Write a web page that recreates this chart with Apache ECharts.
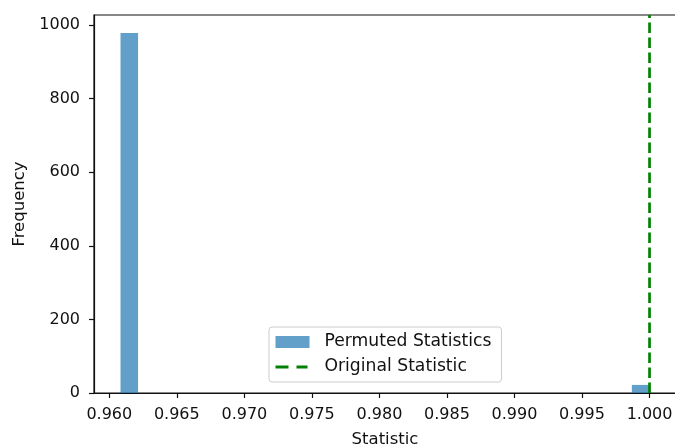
<!DOCTYPE html>
<html>
<head>
<meta charset="utf-8">
<script src="https://cdn.jsdelivr.net/npm/echarts@6/dist/echarts.min.js"></script>
<style>
html,body{margin:0;padding:0;background:#fff;}
#chart{width:675px;height:445px;}
</style>
</head>
<body>
<div id="chart"></div>
<script>
// Histogram bins with non-zero counts
var binLeft = [0.96083, 0.99869];
var binRight = [0.96213, 1.00000];
var counts = [978, 22];
// Original statistic (vertical dashed line)
var originalStat = 1.0;
// Axis ticks
var xTicks = [0.960, 0.965, 0.970, 0.975, 0.980, 0.985, 0.990, 0.995, 1.000];
var yTicks = [0, 200, 400, 600, 800, 1000];
var xMin = 0.958867, xMax = 1.00196;
var yMin = 0, yMax = 1027;

var FONT = 'DejaVu Sans';
var FS = 16;
var TXT = '#111111';

var histData = binLeft.map(function (l, i) { return [l, binRight[i], counts[i]]; });

var chart = echarts.init(document.getElementById('chart'), null, {renderer: 'canvas'});
chart.setOption({
  animation: false,
  backgroundColor: '#ffffff',
  textStyle: {fontFamily: FONT},
  grid: {
    left: 94, top: 15, right: -1, bottom: 52,
    containLabel: false,
    outerBoundsMode: 'none',
    show: true, borderColor: TXT, borderWidth: 1.2, backgroundColor: 'transparent'
  },
  legend: {
    orient: 'vertical',
    left: 269, top: 327,
    padding: [6, 10, 6, 6.5],
    itemGap: 7,
    itemWidth: 34,
    itemHeight: 12,
    backgroundColor: 'rgba(255,255,255,0.8)',
    borderColor: '#cccccc',
    borderWidth: 1,
    borderRadius: 3,
    textStyle: {fontFamily: FONT, fontSize: 17.2, color: TXT, lineHeight: 18, padding: [0, 0, 0, 10]},
    data: [
      {name: 'Permuted Statistics', icon: 'rect'},
      {name: 'Original Statistic',
       icon: 'path://M0,0h0.01v0.01h-0.01z M0,4.6h13v2.8h-13z M21,4.6h11v2.8h-11z M33.99,11.99h0.01v0.01h-0.01z'}
    ]
  },
  xAxis: {
    type: 'value',
    min: xMin, max: xMax,
    name: 'Statistic',
    nameLocation: 'middle',
    nameGap: 38,
    nameTextStyle: {fontFamily: FONT, fontSize: 16.5, color: TXT},
    axisLine: {show: true, onZero: false, lineStyle: {color: TXT, width: 1.2}},
    axisTick: {show: true, length: 5, lineStyle: {color: TXT, width: 1.2}, customValues: xTicks},
    axisLabel: {
      fontFamily: FONT, fontSize: FS, color: TXT, margin: 14,
      customValues: xTicks,
      formatter: function (v) { return v.toFixed(3); }
    },
    splitLine: {show: false}
  },
  yAxis: {
    type: 'value',
    min: yMin, max: yMax,
    name: 'Frequency',
    nameLocation: 'middle',
    nameRotate: 90,
    nameGap: 63,
    nameTextStyle: {fontFamily: FONT, fontSize: 16.5, color: TXT},
    axisLine: {show: true, lineStyle: {color: TXT, width: 1.2}},
    axisTick: {show: true, length: 5, lineStyle: {color: TXT, width: 1.2}, customValues: yTicks},
    axisLabel: {
      fontFamily: FONT, fontSize: FS, color: TXT, margin: 14, customValues: yTicks,
      formatter: function (v) { return String(v); }
    },
    splitLine: {show: false}
  },
  series: [
    {
      name: 'Permuted Statistics',
      type: 'custom',
      itemStyle: {color: '#1f77b4', opacity: 0.7},
      encode: {x: [0, 1], y: 2},
      data: histData,
      renderItem: function (params, api) {
        var p0 = api.coord([api.value(0), 0]);
        var p1 = api.coord([api.value(1), api.value(2)]);
        return {
          type: 'rect',
          shape: {x: p0[0], y: p1[1], width: p1[0] - p0[0], height: p0[1] - p1[1]},
          style: {fill: 'rgba(31,119,180,0.7)'}
        };
      }
    },
    {
      name: 'Original Statistic',
      type: 'line',
      symbol: 'none',
      z: 5,
      lineStyle: {color: '#008000', width: 2.7, type: [10.5, 4.5]},
      itemStyle: {color: '#008000'},
      data: [[originalStat, yMin], [originalStat, yMax]]
    }
  ]
});
</script>
</body>
</html>
